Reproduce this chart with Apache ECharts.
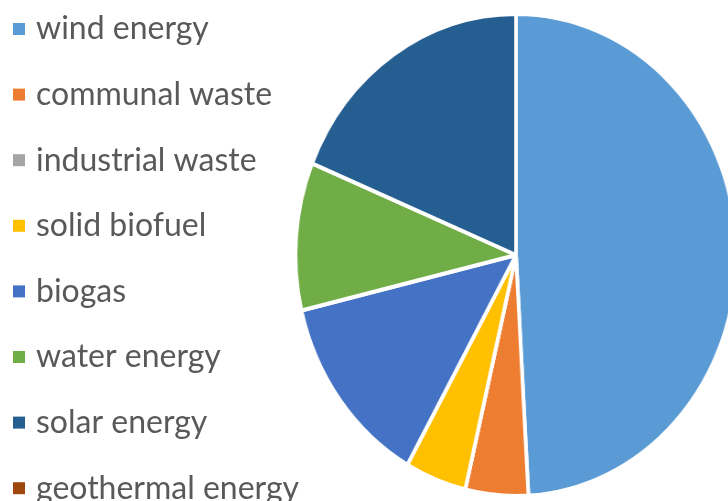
<!DOCTYPE html>
<html>
<head>
<meta charset="utf-8">
<script src="https://cdn.jsdelivr.net/npm/echarts@6/dist/echarts.min.js"></script>
<style>
  html, body { margin: 0; padding: 0; width: 728px; height: 501px; overflow: hidden; background: #fff; }
  #pie { position: absolute; left: 0; top: 0; width: 820px; height: 501px; transform: scaleX(0.915); transform-origin: 516px 0; }
  #legend { position: absolute; left: 0; top: 0; width: 728px; height: 580px; }
</style>
</head>
<body>
<div id="pie"></div>
<div id="legend"></div>
<script>
const categories = ['wind energy', 'communal waste', 'industrial waste', 'solid biofuel', 'biogas', 'water energy', 'solar energy', 'geothermal energy'];
const values = [49.1, 4.6, 0, 4.5, 13.1, 9.9, 18.8, 0];
const colors = ['#5B9BD5', '#ED7D31', '#A5A5A5', '#FFC000', '#4472C4', '#70AD47', '#255E91', '#9E480E'];

const data = categories.map((name, i) => ({ name: name, value: values[i] }));

const pieChart = echarts.init(document.getElementById('pie'), null, { renderer: 'canvas' });
pieChart.setOption({
  animation: false,
  color: colors,
  series: [{
    type: 'pie',
    center: [516, 255],
    radius: 241,
    startAngle: 90,
    clockwise: true,
    avoidLabelOverlap: false,
    label: { show: false },
    labelLine: { show: false },
    itemStyle: { borderColor: '#ffffff', borderWidth: 4 },
    emphasis: { disabled: true },
    data: data
  }]
});

const legendChart = echarts.init(document.getElementById('legend'), null, { renderer: 'canvas' });
legendChart.setOption({
  animation: false,
  color: colors,
  legend: {
    orient: 'vertical',
    left: 13,
    top: 13,
    padding: 0,
    icon: 'rect',
    itemWidth: 12,
    itemHeight: 12,
    itemGap: 33.6,
    selectedMode: false,
    textStyle: {
      fontFamily: 'Lato',
      fontSize: 32,
      color: '#595959',
      padding: [0, 0, 0, 6]
    },
    data: categories
  },
  series: [{
    type: 'pie',
    center: [-100, -100],
    radius: [0, 0],
    silent: true,
    label: { show: false },
    labelLine: { show: false },
    itemStyle: { borderWidth: 0 },
    data: data
  }]
});
</script>
</body>
</html>
